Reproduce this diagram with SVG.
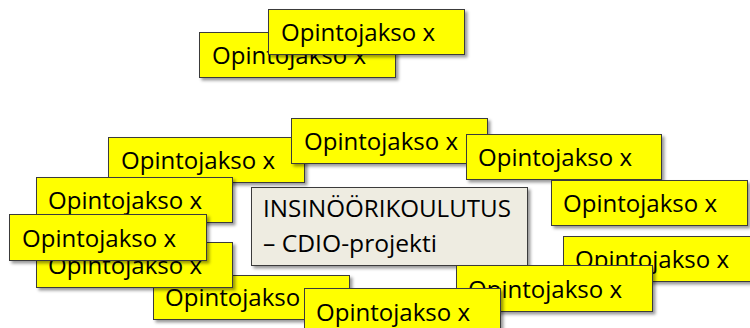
<svg xmlns="http://www.w3.org/2000/svg" width="750" height="328" viewBox="0 0 750 328">
  <defs>
    <filter id="shadow" x="-10%" y="-20%" width="130%" height="160%">
      <feDropShadow dx="2.5" dy="2.5" stdDeviation="1.8" flood-color="#000" flood-opacity="0.4"/>
    </filter>
  </defs>
  <style>
    .course rect { fill: #FFFF00; stroke: #3a3a3a; stroke-width: 1; filter: url(#shadow); }
    .core rect { fill: #EEECE1; stroke: #3a3a3a; stroke-width: 1; filter: url(#shadow); }
    text { font-family: "Open Sans", "Liberation Sans", sans-serif; font-size: 24px; fill: #000; }
  </style>
  <rect width="750" height="328" fill="#FFFFFF"/>

  <!-- central project box -->
  <g id="core" class="core">
    <rect x="251.5" y="187.5" width="276" height="78"/>
    <text x="263" y="217" textLength="248" lengthAdjust="spacingAndGlyphs">INSINÖÖRIKOULUTUS</text>
    <text x="263" y="252" textLength="174" lengthAdjust="spacingAndGlyphs">– CDIO-projekti</text>
  </g>

  <!-- course boxes, back to front -->
  <g id="course-a" class="course">
    <rect x="199.5" y="32.5" width="196" height="45"/>
    <text x="212" y="64" textLength="154" lengthAdjust="spacingAndGlyphs">Opintojakso x</text>
  </g>
  <g id="course-b" class="course">
    <rect x="268.5" y="9.5" width="196" height="45"/>
    <text x="281" y="41" textLength="154" lengthAdjust="spacingAndGlyphs">Opintojakso x</text>
  </g>
  <g id="course-c" class="course">
    <rect x="108.5" y="137.5" width="196" height="45"/>
    <text x="121" y="169" textLength="154" lengthAdjust="spacingAndGlyphs">Opintojakso x</text>
  </g>
  <g id="course-d" class="course">
    <rect x="291.5" y="118.5" width="196" height="45"/>
    <text x="304" y="150" textLength="154" lengthAdjust="spacingAndGlyphs">Opintojakso x</text>
  </g>
  <g id="course-e" class="course">
    <rect x="466.5" y="134.5" width="195" height="45"/>
    <text x="478" y="166" textLength="154" lengthAdjust="spacingAndGlyphs">Opintojakso x</text>
  </g>
  <g id="course-f" class="course">
    <rect x="551.5" y="180.5" width="196" height="45"/>
    <text x="563" y="212" textLength="154" lengthAdjust="spacingAndGlyphs">Opintojakso x</text>
  </g>
  <g id="course-g" class="course">
    <rect x="36.5" y="177.5" width="196" height="45"/>
    <text x="48" y="209" textLength="154" lengthAdjust="spacingAndGlyphs">Opintojakso x</text>
  </g>
  <g id="course-h" class="course">
    <rect x="153.5" y="275.5" width="196" height="44"/>
    <text x="165" y="306" textLength="154" lengthAdjust="spacingAndGlyphs">Opintojakso x</text>
  </g>
  <g id="course-i" class="course">
    <rect x="36.5" y="242.5" width="196" height="45"/>
    <text x="48" y="274" textLength="154" lengthAdjust="spacingAndGlyphs">Opintojakso x</text>
  </g>
  <g id="course-j" class="course">
    <rect x="9.5" y="214.5" width="197" height="46"/>
    <text x="22" y="247" textLength="154" lengthAdjust="spacingAndGlyphs">Opintojakso x</text>
  </g>
  <g id="course-k" class="course">
    <rect x="563.5" y="236.5" width="196" height="45"/>
    <text x="575" y="268" textLength="154" lengthAdjust="spacingAndGlyphs">Opintojakso x</text>
  </g>
  <g id="course-l" class="course">
    <rect x="456.5" y="265.5" width="196" height="46"/>
    <text x="468" y="298" textLength="154" lengthAdjust="spacingAndGlyphs">Opintojakso x</text>
  </g>
  <g id="course-m" class="course">
    <rect x="304.5" y="288.5" width="196" height="46"/>
    <text x="316" y="321" textLength="154" lengthAdjust="spacingAndGlyphs">Opintojakso x</text>
  </g>
</svg>
